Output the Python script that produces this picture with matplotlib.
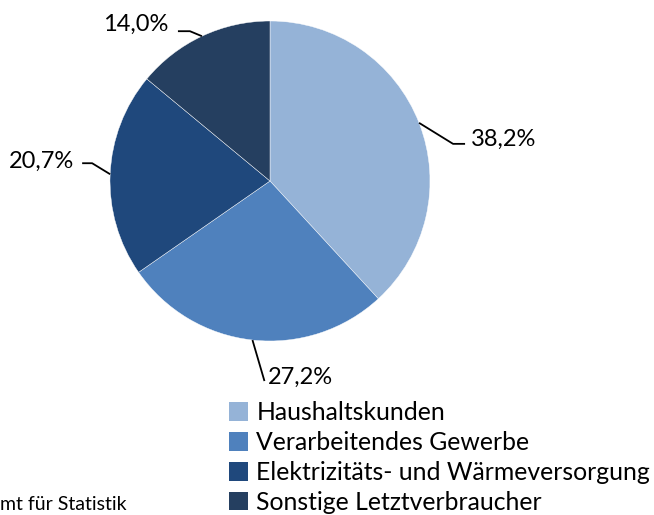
import numpy as np
import matplotlib
matplotlib.use("Agg")
from matplotlib import pyplot as plt

plt.rcParams['font.family'] = ['Lato', 'DejaVu Sans']

# data
categories = ['Haushaltskunden', 'Verarbeitendes Gewerbe',
              'Elektrizitäts- und Wärmeversorgung', 'Sonstige Letztverbraucher']
shares = [38.2, 27.2, 20.7, 14.0]
labels = ['38,2%', '27,2%', '20,7%', '14,0%']
colors = ['#95b3d7', '#4f81bd', '#1f487c', '#253f60']

W, H = 654, 515
fig = plt.figure(figsize=(W/100, H/100), dpi=100)
ax = fig.add_axes([0, 0, 1, 1])

cx, cy, r = 270, H - 181, 160
wedges, _ = ax.pie(shares, colors=colors, startangle=90, counterclock=False,
                   center=(cx, cy), radius=r, frame=True,
                   wedgeprops=dict(edgecolor='white', linewidth=0.3))
ax.set_xlim(0, W)
ax.set_ylim(0, H)
ax.set_aspect('equal')
ax.axis('off')

# leader lines: knee / end offsets in pixels relative to edge point, text anchor
leaders = [
    [(34, -21), (46, -21)],
    [(12, -41)],
    [(-18, 11), (-28, 11)],
    [(-12, 5), (-24, 5)],
]
text_pos = [(471, 139, 'left'), (268, 377, 'left'), (74, 161, 'right'), (168, 24, 'right')]

for w, lab, leg, (tx, ty, ha) in zip(wedges, labels, leaders, text_pos):
    ang = np.deg2rad((w.theta1 + w.theta2) / 2)
    ex, ey = cx + r*np.cos(ang), cy + r*np.sin(ang)
    xs = [ex] + [ex + dx for dx, dy in leg]
    ys = [ey] + [ey + dy for dx, dy in leg]
    ax.plot(xs, ys, color='black', linewidth=1.3, solid_capstyle='butt')
    ax.text(tx, H - ty, lab, ha=ha, va='center', fontsize=17, color='black')

leg = ax.legend(wedges, categories, loc='upper left', bbox_to_anchor=(229/W, 1 - 401/H),
                frameon=False, fontsize=17.8, handlelength=0.78, handleheight=0.78,
                handletextpad=0.33, labelspacing=0.28, borderaxespad=0, borderpad=0)
for h in leg.legend_handles:
    h.set_linewidth(0)

fig.text(0, 1 - 505/H, 'mt für Statistik', ha='left', va='center', fontsize=14)

plt.savefig('out.png', dpi=100)
